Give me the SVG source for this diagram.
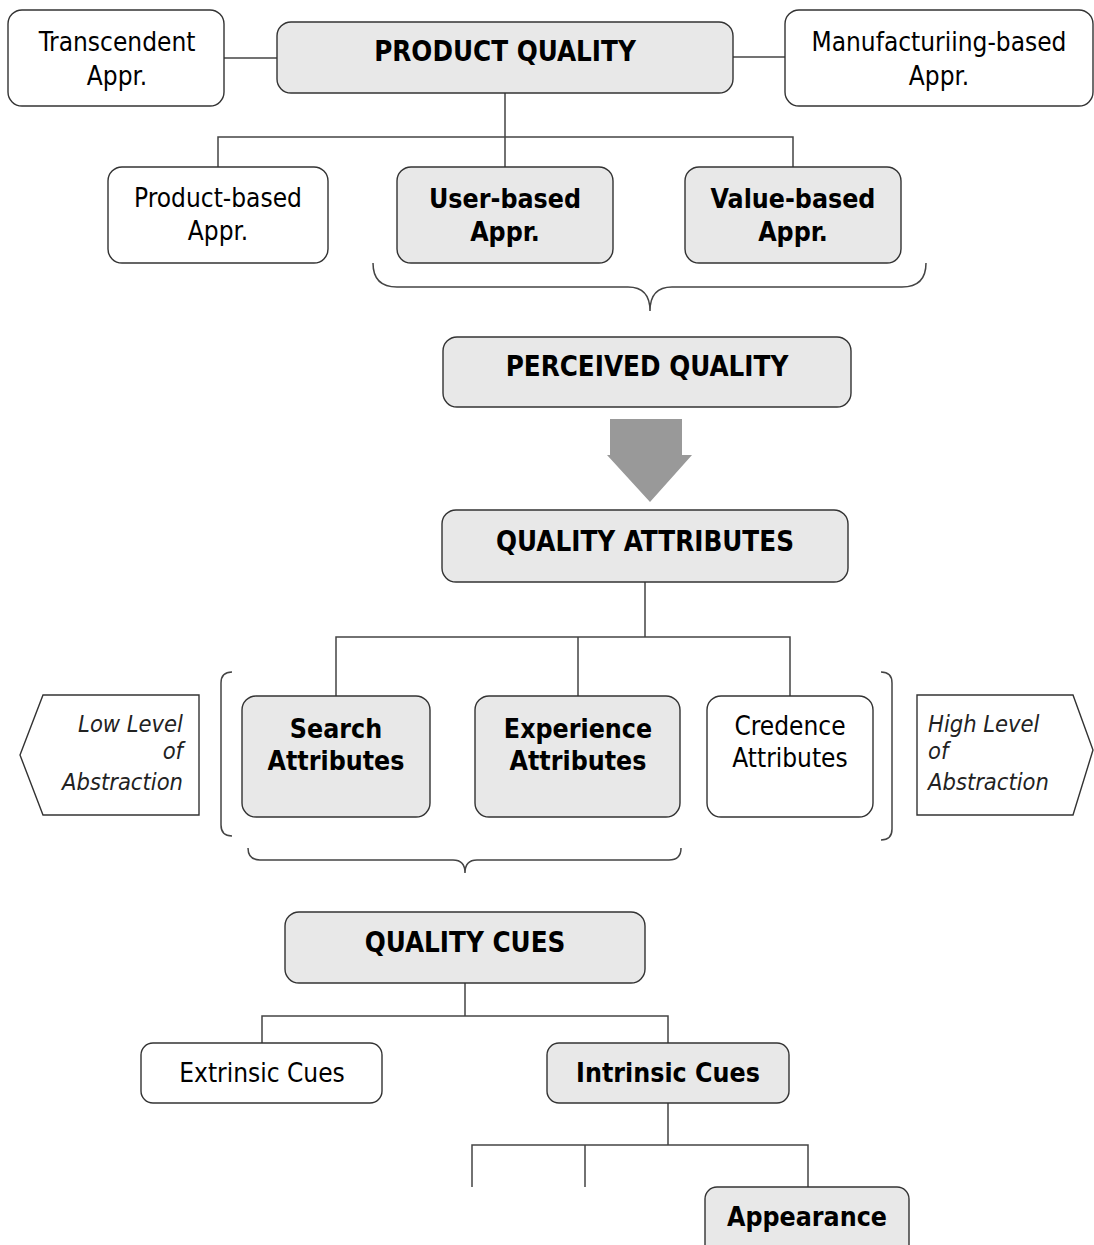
<svg xmlns="http://www.w3.org/2000/svg" width="1094" height="1245" viewBox="0 0 1094 1245">
<style>
.box{stroke:#333;stroke-width:1.4;}
.w{fill:#fff;}
.g{fill:#e8e8e8;}
text{font-family:"DejaVu Sans Condensed","DejaVu Sans",sans-serif;font-stretch:condensed;fill:#000;text-anchor:middle;}
.r{font-size:26px;}
.b{font-size:26.5px;font-weight:bold;}
.bt{font-size:27.5px;font-weight:bold;}
.i{font-size:23.5px;font-style:italic;fill:#222;}
.conn{fill:none;stroke:#444;stroke-width:1.5;}
</style>
<rect width="1094" height="1245" fill="#fff"/>
<g id="connectors" class="conn">
<path d="M224,58 H277"/>
<path d="M733,57 H785"/>
<path d="M505,93 V137 M218,167 V137 H793 V167 M505,137 V167"/>
<path d="M645,582 V637 M336,696 V637 H790 V696 M578,637 V696"/>
<path d="M465,983 V1016 M262,1043 V1016 H668 V1043"/>
<path d="M668,1103 V1145 M472,1187 V1145 H808 V1187 M585,1145 V1187"/>
<path d="M373,263 Q373,287 397,287 L628,287 Q650,287 650,311 Q650,287 672,287 L902,287 Q926,287 926,263"/>
<path d="M248,848 Q248,860 260,860 L453,860 Q465,860 465,873 Q465,860 477,860 L669,860 Q681,860 681,848"/>
<path d="M232,672 Q221,672 221,683 V825 Q221,836 232,836"/>
<path d="M881,672 Q892,672 892,683 V829 Q892,840 881,840"/>
</g>
<g id="transcendent"><rect class="box w" x="8" y="10" width="216" height="96" rx="14"/><text class="r" x="117" y="51">Transcendent</text><text class="r" x="117" y="85">Appr.</text></g>
<g id="product-quality"><rect class="box g" x="277" y="22" width="456" height="71" rx="14"/><text class="bt" x="505" y="61">PRODUCT QUALITY</text></g>
<g id="manufacturing"><rect class="box w" x="785" y="10" width="308" height="96" rx="14"/><text class="r" x="939" y="51">Manufacturiing-based</text><text class="r" x="939" y="85">Appr.</text></g>
<g id="product-based"><rect class="box w" x="108" y="167" width="220" height="96" rx="14"/><text class="r" x="218" y="207">Product-based</text><text class="r" x="218" y="240">Appr.</text></g>
<g id="user-based"><rect class="box g" x="397" y="167" width="216" height="96" rx="14"/><text class="b" x="505" y="208">User-based</text><text class="b" x="505" y="241">Appr.</text></g>
<g id="value-based"><rect class="box g" x="685" y="167" width="216" height="96" rx="14"/><text class="b" x="793" y="208">Value-based</text><text class="b" x="793" y="241">Appr.</text></g>
<g id="perceived-quality"><rect class="box g" x="443" y="337" width="408" height="70" rx="14"/><text class="bt" x="647" y="376">PERCEIVED QUALITY</text></g>
<g id="big-arrow"><polygon points="610,419 682,419 682,455 692,455 650,502 607,455 610,455" fill="#999"/></g>
<g id="quality-attributes"><rect class="box g" x="442" y="510" width="406" height="72" rx="14"/><text class="bt" x="645" y="551">QUALITY ATTRIBUTES</text></g>
<g id="search"><rect class="box g" x="242" y="696" width="188" height="121" rx="14"/><text class="b" x="336" y="738">Search</text><text class="b" x="336" y="770">Attributes</text></g>
<g id="experience"><rect class="box g" x="475" y="696" width="205" height="121" rx="14"/><text class="b" x="578" y="738">Experience</text><text class="b" x="578" y="770">Attributes</text></g>
<g id="credence"><rect class="box w" x="707" y="696" width="166" height="121" rx="14"/><text class="r" x="790" y="735">Credence</text><text class="r" x="790" y="767">Attributes</text></g>
<g id="low-level"><polygon class="box w" points="43,695 199,695 199,815 43,815 20,755" stroke-width="1.2"/><text class="i" x="183" y="732" style="text-anchor:end">Low Level</text><text class="i" x="183" y="759" style="text-anchor:end">of</text><text class="i" x="183" y="790" style="text-anchor:end">Abstraction</text></g>
<g id="high-level"><polygon class="box w" points="917,695 1073,695 1093,750 1073,815 917,815" stroke-width="1.2"/><text class="i" x="928" y="732" style="text-anchor:start">High Level</text><text class="i" x="928" y="759" style="text-anchor:start">of</text><text class="i" x="928" y="790" style="text-anchor:start">Abstraction</text></g>
<g id="quality-cues"><rect class="box g" x="285" y="912" width="360" height="71" rx="14"/><text class="bt" x="465" y="952">QUALITY CUES</text></g>
<g id="extrinsic"><rect class="box w" x="141" y="1043" width="241" height="60" rx="12"/><text class="r" x="262" y="1082">Extrinsic Cues</text></g>
<g id="intrinsic"><rect class="box g" x="547" y="1043" width="242" height="60" rx="12"/><text class="b" x="668" y="1082">Intrinsic Cues</text></g>
<g id="appearance"><rect class="box g" x="705" y="1187" width="204" height="75" rx="12"/><text class="b" x="807" y="1226">Appearance</text></g>
</svg>
